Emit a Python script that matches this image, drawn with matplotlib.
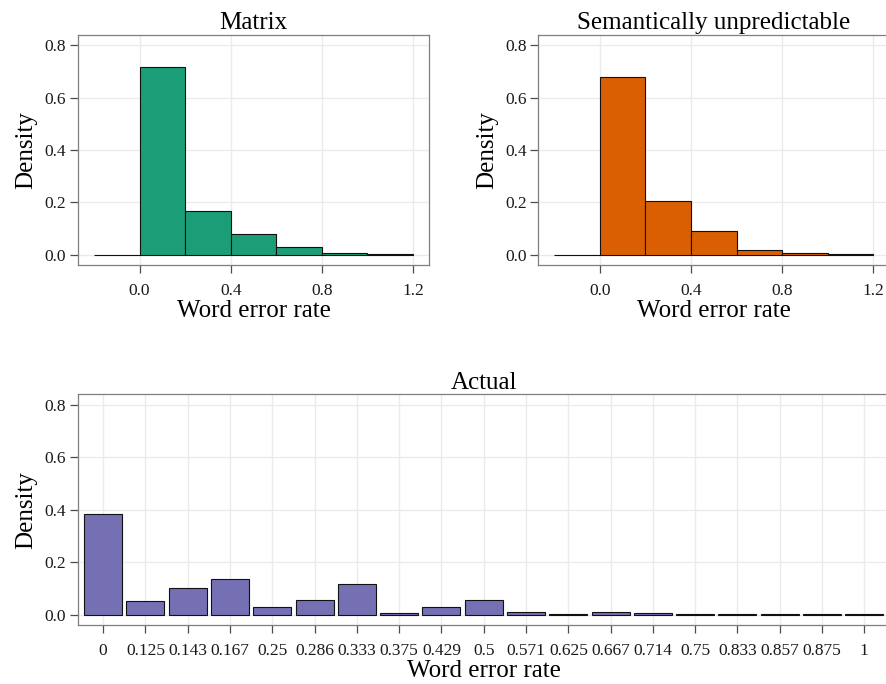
import matplotlib
matplotlib.use("Agg")
import matplotlib.pyplot as plt
import numpy as np

plt.rcParams["font.family"] = ["Liberation Serif", "DejaVu Serif"]

# Histogram bins (width 0.2) shared by the two upper panels
bin_edges = [-0.2, 0.0, 0.2, 0.4, 0.6, 0.8, 1.0]
matrix_density = [0.0, 0.716, 0.165, 0.079, 0.029, 0.005, 0.001]
semantic_density = [0.0, 0.678, 0.205, 0.090, 0.017, 0.006, 0.001]

# Observed word error rates (discrete categories)
actual_categories = ["0", "0.125", "0.143", "0.167", "0.25", "0.286", "0.333",
                     "0.375", "0.429", "0.5", "0.571", "0.625", "0.667", "0.714",
                     "0.75", "0.833", "0.857", "0.875", "1"]
actual_density = [0.385, 0.052, 0.101, 0.137, 0.027, 0.054, 0.118, 0.006, 0.027,
                  0.054, 0.009, 0.001, 0.010, 0.004, 0.001, 0.002, 0.002, 0.001, 0.001]

y_ticks = [0.0, 0.2, 0.4, 0.6, 0.8]
x_ticks = [0.0, 0.4, 0.8, 1.2]

GREEN, ORANGE, PURPLE = "#1B9E77", "#D95F02", "#7570B3"
GRID = "#EBEBEB"
BORDER = "#7F7F7F"
TICKC = "#4D4D4D"

W, H = 887, 684
fig = plt.figure(figsize=(W / 100, H / 100), dpi=100)


def px_axes(left, top, right, bottom):
    return fig.add_axes([left / W, 1 - bottom / H, (right - left) / W, (bottom - top) / H])


def style(ax, title):
    ax.set_ylim(-0.04, 0.84)
    ax.set_yticks(y_ticks)
    ax.set_yticklabels([f"{v:.1f}" for v in y_ticks])
    ax.grid(True, color=GRID, linewidth=1.0)
    ax.set_axisbelow(True)
    for s in ax.spines.values():
        s.set_color(BORDER)
        s.set_linewidth(0.9)
    ax.tick_params(axis="both", colors=TICKC, length=6, width=0.9,
                   labelsize=12.5, labelcolor="#1a1a1a", pad=2.5)
    ax.tick_params(axis="x", pad=7)
    ax.set_title(title, fontsize=18, pad=4)
    ax.set_ylabel("Density", fontsize=18, labelpad=5)
    ax.set_xlabel("Word error rate", fontsize=18, labelpad=1)


for (l, r), dens, col, title in [((78, 429), matrix_density, GREEN, "Matrix"),
                                 ((538.4, 889.3), semantic_density, ORANGE,
                                  "Semantically unpredictable")]:
    ax = px_axes(l, 35, r, 265)
    ax.bar(bin_edges, dens, width=0.2, align="edge", color=col,
           edgecolor="#111111", linewidth=0.8, zorder=2)
    ax.set_xlim(-0.27, 1.27)
    ax.set_xticks(x_ticks)
    ax.set_xticklabels([f"{v:.1f}" for v in x_ticks])
    style(ax, title)

ax3 = px_axes(77.8, 394.3, 889.7, 625)
pos = np.arange(len(actual_categories))
ax3.bar(pos, actual_density, width=0.9, color=PURPLE, edgecolor="#111111",
        linewidth=0.8, zorder=2)
ax3.set_xlim(-0.6, len(actual_categories) - 0.4)
ax3.set_xticks(pos)
ax3.set_xticklabels(actual_categories)
style(ax3, "Actual")

fig.savefig("out.png", dpi=100)
